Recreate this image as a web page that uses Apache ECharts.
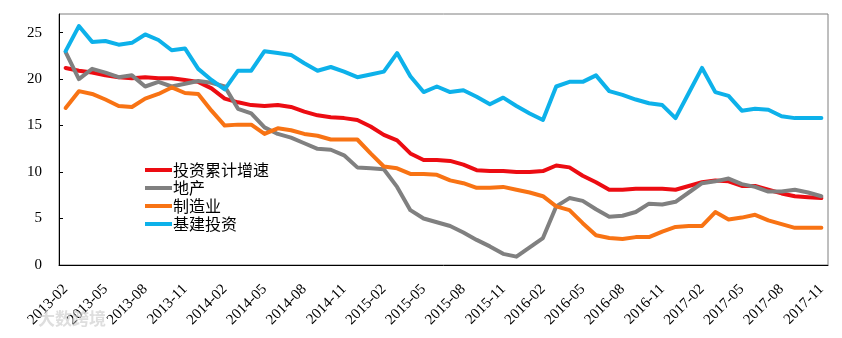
<!DOCTYPE html>
<html>
<head>
<meta charset="utf-8">
<script src="https://cdn.jsdelivr.net/npm/echarts@6/dist/echarts.min.js"></script>
<style>html,body{margin:0;padding:0;background:#fff}#c{width:842px;height:338px}</style>
</head>
<body>
<div id="c"></div>
<script>
const months = [
 '2013-02','2013-03','2013-04','2013-05','2013-06','2013-07','2013-08','2013-09','2013-10','2013-11','2013-12',
 '2014-01','2014-02','2014-03','2014-04','2014-05','2014-06','2014-07','2014-08','2014-09','2014-10','2014-11','2014-12',
 '2015-01','2015-02','2015-03','2015-04','2015-05','2015-06','2015-07','2015-08','2015-09','2015-10','2015-11','2015-12',
 '2016-01','2016-02','2016-03','2016-04','2016-05','2016-06','2016-07','2016-08','2016-09','2016-10','2016-11','2016-12',
 '2017-01','2017-02','2017-03','2017-04','2017-05','2017-06','2017-07','2017-08','2017-09','2017-10','2017-11'
];
const seriesNames = ['投资累计增速','地产','制造业','基建投资'];
const totalFAI = [21.2,20.9,20.7,20.4,20.2,20.1,20.2,20.1,20.1,19.9,19.7,19.0,17.9,17.5,17.2,17.1,17.2,17.0,16.5,16.1,15.9,15.8,15.6,14.9,14.0,13.4,12.0,11.3,11.3,11.2,10.8,10.2,10.1,10.1,10.0,10.0,10.1,10.7,10.5,9.6,8.9,8.1,8.1,8.2,8.2,8.2,8.1,8.5,8.9,9.1,9.0,8.5,8.5,8.1,7.7,7.4,7.3,7.2];
const realEstate = [22.9,20.0,21.1,20.7,20.2,20.4,19.2,19.7,19.2,19.5,19.8,19.6,19.2,16.8,16.3,14.8,14.1,13.7,13.1,12.5,12.4,11.8,10.5,10.4,10.3,8.4,5.9,5.0,4.6,4.2,3.5,2.7,2.0,1.2,0.9,1.9,2.9,6.3,7.2,6.9,6.0,5.2,5.3,5.7,6.6,6.5,6.8,7.8,8.8,9.0,9.3,8.7,8.4,7.9,7.9,8.1,7.8,7.4];
const manufacturing = [16.9,18.7,18.4,17.8,17.1,17.0,17.9,18.4,19.1,18.5,18.4,16.6,15.0,15.1,15.1,14.1,14.7,14.5,14.1,13.9,13.5,13.5,13.5,12.0,10.6,10.4,9.8,9.8,9.7,9.1,8.8,8.3,8.3,8.4,8.1,7.8,7.4,6.3,5.9,4.5,3.2,2.9,2.8,3.0,3.0,3.6,4.1,4.2,4.2,5.7,4.9,5.1,5.4,4.8,4.4,4.0,4.0,4.0];
const infrastructure = [23.0,25.7,24.0,24.1,23.7,23.9,24.8,24.2,23.1,23.3,21.1,19.9,18.9,20.9,20.9,23.0,22.8,22.6,21.7,20.9,21.3,20.8,20.2,20.5,20.8,22.8,20.3,18.6,19.2,18.6,18.8,18.1,17.3,18.0,17.1,16.3,15.6,19.2,19.7,19.7,20.4,18.7,18.3,17.8,17.4,17.2,15.8,18.5,21.2,18.6,18.2,16.6,16.8,16.7,16.0,15.8,15.8,15.8];
const yTicks = [0,5,10,15,20,25];

const colors = ['#EC0C12','#808080','#F87314','#0DB1EA'];
const dataSets = [totalFAI, realEstate, manufacturing, infrastructure];

const chart = echarts.init(document.getElementById('c'), null, {renderer:'canvas'});
chart.setOption({
  animation: false,
  backgroundColor: '#fff',
  grid: {left: 59, right: 14, top: 14, bottom: 73, show: true, borderColor: '#7f7f7f', borderWidth: 1, containLabel: false},
  legend: {
    orient: 'vertical', left: 140, top: 157, itemWidth: 27, itemHeight: 4, itemGap: 2,
    icon: 'rect',
    data: seriesNames,
    textStyle: {fontFamily: 'Noto Sans CJK SC', fontSize: 16, color: '#000', padding: [0,0,0,-4], lineHeight: 16}
  },
  xAxis: {
    type: 'category', data: months, boundaryGap: true,
    axisLine: {lineStyle: {color: '#000', width: 1}},
    axisTick: {inside: true, length: 4, interval: 2, lineStyle: {color: '#000'}},
    axisLabel: {interval: 2, rotate: 45, margin: 22, color: '#000', fontFamily: 'Liberation Serif', fontSize: 15}
  },
  yAxis: {
    type: 'value', min: 0, max: 27, interval: 5,
    axisLine: {show: true, lineStyle: {color: '#000', width: 1}},
    axisTick: {show: true, inside: true, length: 4, lineStyle: {color: '#000'}},
    splitLine: {show: false},
    axisLabel: {showMaxLabel: false, margin: 17, color: '#000', fontFamily: 'Liberation Serif', fontSize: 15,
      formatter: function(v){ return yTicks.indexOf(v) >= 0 ? String(v) : ''; }}
  },
  series: seriesNames.map(function(n, k){
    return {name: n, type: 'line', data: dataSets[k], showSymbol: false, symbol: 'none',
      lineStyle: {width: 4, color: colors[k], join: 'round', cap: 'round'}, itemStyle: {color: colors[k]}};
  }),
  graphic: [{
    type: 'text', left: 38, top: 310, z: 100,
    style: {text: '大数跨境', fill: 'rgba(200,200,200,0.6)', font: 'bold 17px "Noto Sans CJK SC"'}
  }]
});
</script>
</body>
</html>
